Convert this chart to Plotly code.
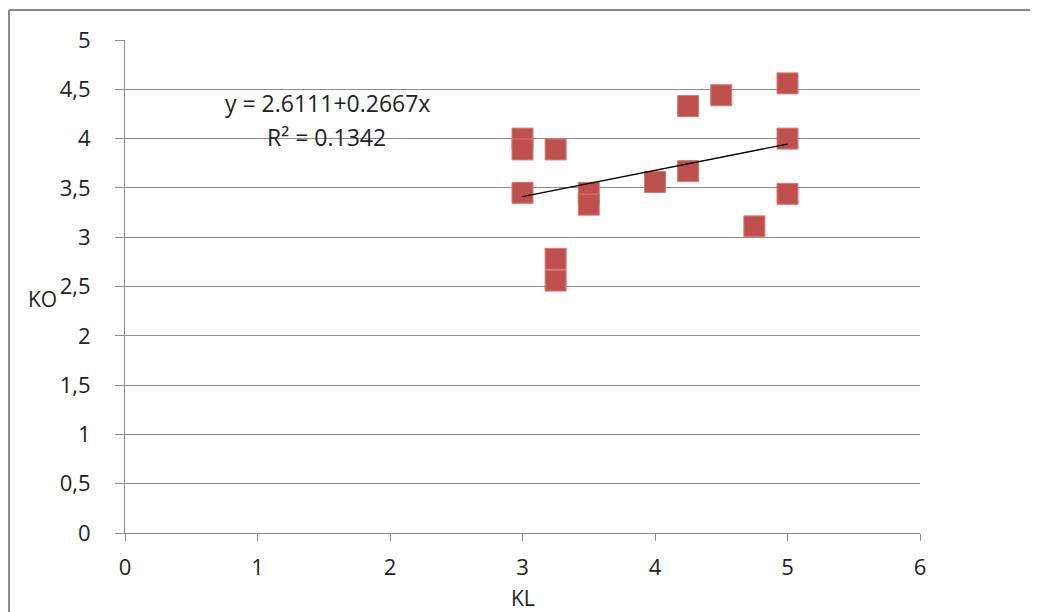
import plotly.graph_objects as go

# Data
kl = [3, 3, 3, 3.25, 3.25, 3.25, 3.5, 3.5, 4, 4.25, 4.25, 4.5, 4.75, 5, 5, 5]
ko = [4.0, 3.89, 3.45, 3.89, 2.78, 2.56, 3.45, 3.33, 3.56, 4.33, 3.67, 4.44, 3.11, 4.56, 4.0, 3.44]
intercept = 2.6111
slope = 0.2667
r2 = 0.1342
x_ticks = [0, 1, 2, 3, 4, 5, 6]
y_ticks = [0, 0.5, 1, 1.5, 2, 2.5, 3, 3.5, 4, 4.5, 5]
y_tick_labels = ["0", "0,5", "1", "1,5", "2", "2,5", "3", "3,5", "4", "4,5", "5"]

FONT = "Open Sans, sans-serif"
GRID = "#8c8c8c"
FS = 22

x_lo, x_hi = min(kl), max(kl)
trend_x = [x_lo, x_hi]
trend_y = [intercept + slope * v for v in trend_x]

fig = go.Figure()
fig.add_trace(go.Scatter(
    x=kl, y=ko, mode="markers",
    marker=dict(symbol="square", size=21, color="#C0504D",
                line=dict(color="#d27a78", width=1)),
    showlegend=False, hoverinfo="x+y",
))
fig.add_trace(go.Scatter(
    x=trend_x, y=trend_y, mode="lines",
    line=dict(color="black", width=1.3),
    showlegend=False, hoverinfo="skip",
))

fig.update_layout(
    width=1038, height=612,
    margin=dict(l=117, r=126, t=32, b=87),
    paper_bgcolor="white", plot_bgcolor="white",
    font=dict(family=FONT, size=FS, color="#222"),
    xaxis=dict(range=[0, 6], tickvals=x_ticks, ticks="outside", ticklen=7,
               tickcolor=GRID, showgrid=False, zeroline=False,
               showline=True, linecolor=GRID, linewidth=1,
               ticklabelstandoff=8, tickfont=dict(size=FS),
               fixedrange=True),
    yaxis=dict(range=[0, 5], tickvals=y_ticks, ticktext=y_tick_labels,
               ticksuffix="\u00a0",
               ticks="outside", ticklen=9, tickcolor=GRID,
               showgrid=True, gridcolor=GRID, gridwidth=1, zeroline=False,
               showline=True, linecolor=GRID, linewidth=1,
               ticklabelstandoff=20, tickfont=dict(size=FS),
               fixedrange=True),
    annotations=[
        dict(text="KL", x=0.5, xref="paper", y=-0.132, yref="paper",
             showarrow=False, xanchor="center", yanchor="middle",
             font=dict(size=21)),
        dict(text="KO", x=-0.104, xref="paper", y=0.475, yref="paper",
             showarrow=False, xanchor="center", yanchor="middle",
             font=dict(size=21)),
        dict(text=f"y = {intercept}+{slope}x", x=0.2545, xref="paper",
             y=0.872, yref="paper", showarrow=False, xanchor="center",
             yanchor="middle", font=dict(size=23)),
        dict(text=f"R² = {r2}", x=0.2535, xref="paper",
             y=0.803, yref="paper", showarrow=False, xanchor="center",
             yanchor="middle", font=dict(size=23)),
    ],
    shapes=[
        dict(type="line", xref="paper", yref="paper",
             x0=-0.1459, x1=-0.1459, y0=1.0609, y1=-0.3,
             line=dict(color="#8a8a8a", width=2)),
        dict(type="line", xref="paper", yref="paper",
             x0=-0.1459, x1=1.2, y0=1.0609, y1=1.0609,
             line=dict(color="#8a8a8a", width=2)),
    ],
)

fig.write_html("out.html")
